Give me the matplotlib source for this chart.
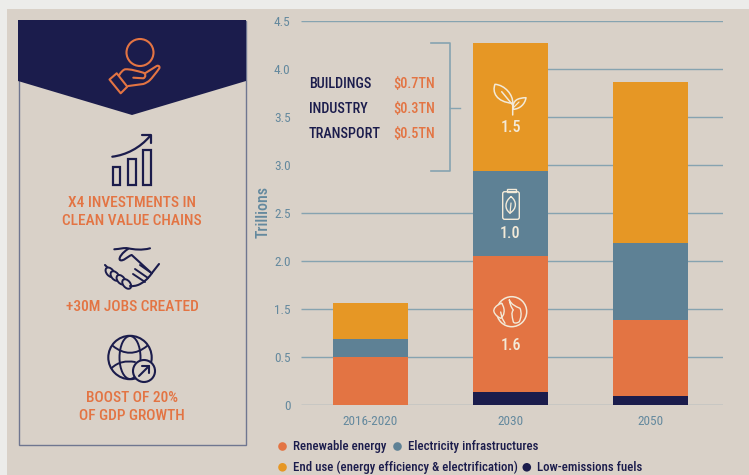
import numpy as np
import matplotlib
matplotlib.use('Agg')
import matplotlib.pyplot as plt
from matplotlib import font_manager
from matplotlib.patches import Circle, Ellipse, Polygon, Rectangle, FancyBboxPatch, PathPatch
from matplotlib.path import Path

W, H = 749, 475

BG = '#ececea'
PANEL = '#d9d1c8'
NAVY = '#1b1c4c'
ORANGE = '#e37443'
BLUE = '#5e8195'
YELLOW = '#e69725'
GRID = '#86a3b0'
TICK = '#64899e'
WH = '#f3ead8'

periods = ['2016-2020', '2030', '2050']
low_emissions = [0, 0.14, 0.09]
renewable = [0.50, 1.915, 1.19]
electricity = [0.375, 0.885, 0.91]
end_use = [0.685, 1.33, 1.675]

tick_values = [0, 0.5, 1.5, 2.0, 2.5, 3.0, 3.5, 4.0, 4.5]
tick_labels = ['0', '0.5', '1.5', '2.0', '2.5', '3.0', '3.5', '4.0', '4.5']

sector_names = ['BUILDINGS', 'INDUSTRY', 'TRANSPORT']
sector_amounts = ['$0.7TN', '$0.3TN', '$0.5TN']
segment_labels = ['1.6', '1.0', '1.5']

# condensed face if the machine has it, otherwise Liberation Sans set smaller so nothing collides
installed = {f.name for f in font_manager.fontManager.ttflist}
if 'Roboto Condensed' in installed:
    plt.rcParams['font.family'] = ['Roboto Condensed', 'Liberation Sans', 'DejaVu Sans']
    SCALE = 1.0
else:
    plt.rcParams['font.family'] = ['Liberation Sans', 'DejaVu Sans']
    SCALE = 0.85


# the source axis skips 1.0: ticks are evenly spaced though their values are not
def forward(v):
    return np.interp(v, [0, 0.5, 1.5, 4.5], [0, 0.5, 1.0, 4.0])


def inverse(v):
    return np.interp(v, [0, 0.5, 1.0, 4.0], [0, 0.5, 1.5, 4.5])


def curve(ax, pts, color, lw=1.4, fill='none'):
    # pts: first is moveto, then lines; ('c', a, b, c) is a bezier
    verts, codes = [pts[0]], [Path.MOVETO]
    for p in pts[1:]:
        if p[0] == 'c':
            verts += [p[1], p[2], p[3]]
            codes += [Path.CURVE4] * 3
        else:
            verts.append(p)
            codes.append(Path.LINETO)
    ax.add_patch(PathPatch(Path(verts, codes), fc=fill, ec=color, lw=lw,
                           capstyle='round', joinstyle='round'))


fig = plt.figure(figsize=(W / 100, H / 100), dpi=100, facecolor=BG)

# overlay in pixel coordinates for the panel and its icons
bg = fig.add_axes([0, 0, 1, 1], zorder=0)
bg.set_xlim(0, W)
bg.set_ylim(H, 0)
bg.axis('off')
bg.add_patch(Rectangle((7, 9), W - 7, H - 9, fc=PANEL, ec='none'))

# left card
bg.add_patch(Rectangle((18.5, 20.5), 227, 424.5, fc='none', ec='#6f7690', lw=1.0))
bg.add_patch(Polygon([(18, 20), (246, 20), (246, 81), (132, 115), (18, 81)], fc=NAVY, ec='none'))

# hand and coin
bg.add_patch(Circle((140, 52.5), 13.5, fc='none', ec=ORANGE, lw=1.5))
bg.add_patch(Polygon([(109.5, 79.5), (116.7, 73.3), (127.3, 86.7), (120.7, 93.3)], fc=NAVY, ec=ORANGE, lw=1.5,
                     joinstyle='round'))
curve(bg, [(119.3, 75), ('c', (121, 72), (123, 70), (125, 69.3)), ('c', (131, 69), (137, 71), (143.3, 72.7)),
           ('c', (146, 73.5), (146, 77.5), (143.3, 78.3)), (133.3, 77.7)], ORANGE, 1.5)
curve(bg, [(145, 73.3), (156.7, 66), ('c', (159, 65), (160, 67), (159.3, 68.3)),
           ('c', (156, 73), (152, 78), (150, 80)), ('c', (148, 82), (146, 83), (143.3, 84)), (128.3, 86)], ORANGE, 1.5)

# growth bars
for bx, btop, bw in zip([112.7, 128.3, 143.3], [166.7, 159, 150.3], [7.6, 7.4, 7.7]):
    bg.add_patch(Rectangle((bx, btop), bw, 185 - btop, fc='none', ec=NAVY, lw=1.6))
curve(bg, [(112.3, 156.7), ('c', (126, 155), (140, 148), (150, 136))], NAVY, 1.6)
curve(bg, [(141.7, 135.3), (151, 135.3), (151, 143.3)], NAVY, 1.6)

# handshake
curve(bg, [(114.3, 249.3), ('c', (120, 249), (124, 247.5), (128, 248.3)),
           ('c', (134, 249.5), (142, 250.5), (150, 248.3))], NAVY, 1.5)
curve(bg, [(128, 249), ('c', (123, 252), (118, 258), (120, 260)), ('c', (123, 262), (128, 256), (131.7, 255)),
           (151.7, 273.3)], NAVY, 1.5)
curve(bg, [(105, 265), (111.7, 271.7)], NAVY, 1.5)
curve(bg, [(159, 264), (151.7, 273.3)], NAVY, 1.5)
for kx, ky in zip([110, 115, 121, 126.7], [272.3, 276, 279.8, 284]):
    bg.add_patch(Ellipse((kx, ky), 11, 7, angle=50, fc=PANEL, ec=NAVY, lw=1.4))
curve(bg, [(151.7, 273.3), ('c', (148, 279), (143, 283), (138, 285)), ('c', (135, 286), (132, 286.5), (130, 286))],
      NAVY, 1.5)
curve(bg, [(133, 274), (145, 282)], NAVY, 1.4)
curve(bg, [(135, 269), (148, 278)], NAVY, 1.4)
curve(bg, [(140, 265), (150, 272)], NAVY, 1.4)

# globe with arrow badge
bg.add_patch(Circle((130, 357.5), 21.7, fc='none', ec=NAVY, lw=1.5))
bg.add_patch(Ellipse((130, 357.5), 21, 43, fc='none', ec=NAVY, lw=1.4))
curve(bg, [(113, 346), ('c', (124, 355), (136, 355), (147, 346))], NAVY, 1.4)
curve(bg, [(111.7, 368), ('c', (118, 362), (126, 360.5), (135, 362))], NAVY, 1.4)
bg.add_patch(Circle((144, 371), 11, fc=PANEL, ec=NAVY, lw=1.5))
curve(bg, [(139, 376), (149, 366)], NAVY, 1.5)
curve(bg, [(142, 366), (149, 366), (149, 373)], NAVY, 1.5)

# card captions
for txt, y in [('X4 INVESTMENTS IN', 203), ('CLEAN VALUE CHAINS', 221), ('+30M JOBS CREATED', 307),
               ('BOOST OF 20%', 398), ('OF GDP GROWTH', 416)]:
    bg.text(132, y, txt, color=ORANGE, fontsize=11.1 * SCALE, ha='center', va='center', fontweight='medium')

# chart
ax = fig.add_axes([301 / W, 1 - 405 / H, (722.7 - 301) / W, 384 / H], zorder=1)
ax.patch.set_alpha(0)
ax.set_yscale('function', functions=(forward, inverse))
ax.set_ylim(0, 4.5)
ax.set_xlim(-0.4975, 2.52)

x = np.arange(len(periods))
bottom = np.zeros(len(periods))
for vals, col in [(low_emissions, NAVY), (renewable, ORANGE), (electricity, BLUE), (end_use, YELLOW)]:
    ax.bar(x, vals, width=0.537, bottom=bottom, color=col, zorder=3)
    bottom = bottom + np.array(vals)

# gridlines stop at the 2030 bar where the sector note sits
ax.hlines([0, 0.5, 1.5, 2.0, 2.5, 4.5], -0.4975, 2.52, color=GRID, lw=1.0, zorder=1)
ax.hlines([3.0, 3.5, 4.0], 1, 2.52, color=GRID, lw=1.0, zorder=1)

ax.set_yticks(tick_values)
ax.set_yticklabels(tick_labels)
ax.set_xticks(x)
ax.set_xticklabels(periods)
ax.minorticks_off()
ax.tick_params(axis='y', length=0, labelcolor=TICK, labelsize=9.5 * SCALE, pad=7.5)
ax.tick_params(axis='x', length=0, labelcolor=TICK, labelsize=9.5 * SCALE, pad=7)
for s in ax.spines.values():
    s.set_visible(False)

# overlay above the chart
top = fig.add_axes([0, 0, 1, 1], zorder=2)
top.set_xlim(0, W)
top.set_ylim(H, 0)
top.axis('off')

top.text(263, 212, 'Trillions', color=TICK, fontsize=11.5 * SCALE, rotation=90, ha='center', va='center',
         fontweight='medium')

# sector note and bracket
top.plot([431, 449.5, 449.5, 431], [43, 43, 171, 171], color=GRID, lw=1.2)
top.plot([449.5, 460], [107.5, 107.5], color=GRID, lw=1.0)
for name, amount, y in zip(sector_names, sector_amounts, [83.5, 109, 134.5]):
    top.text(309, y, name, color=NAVY, fontsize=10.3 * SCALE, va='center', fontweight='medium')
    top.text(435.5, y, amount, color=ORANGE, fontsize=10.3 * SCALE, va='center', ha='right', fontweight='medium')

# segment values and white icons
for txt, y in zip(segment_labels, [345, 234, 128]):
    top.text(510.5, y, txt, color=WH, fontsize=11.5 * SCALE, ha='center', va='center', fontweight='medium')
curve(top, [(512.7, 103.3), ('c', (513.3, 95), (505, 85), (495, 84.3)),
            ('c', (492, 92), (496, 102), (512.7, 103.3))], WH, 1.1)
curve(top, [(513.3, 109.3), ('c', (512, 100), (518, 98), (526, 97.7)),
            ('c', (525, 104), (520, 109), (513.3, 109.3))], WH, 1.1)
curve(top, [(501.7, 91.7), (512.7, 105), (512.7, 115)], WH, 1.1)
curve(top, [(519, 102), (513, 108)], WH, 0.9)

top.add_patch(FancyBboxPatch((502.7, 191.7), 16.6, 27.6, boxstyle='round,pad=0,rounding_size=2', fc='none', ec=WH,
                             lw=1.0))
top.add_patch(Rectangle((506.7, 189.3), 9.3, 2.4, fc='none', ec=WH, lw=1.0))
curve(top, [(511, 196.7), ('c', (505, 201), (504, 209), (510, 213)), ('c', (517, 209), (517, 201), (511, 196.7))],
      WH, 1.0)
curve(top, [(511, 203), (510, 213.5)], WH, 0.9)

top.add_patch(Circle((511.7, 311.7), 15, fc='none', ec=WH, lw=1.1))
curve(top, [(501.7, 303.3), ('c', (496, 305), (493, 309), (494, 311.7)), ('c', (495, 315), (498, 317), (500.7, 318.3)),
            ('c', (504, 316), (506, 310), (501.7, 303.3))], WH, 1.0, fill=ORANGE)
curve(top, [(500.7, 312), (502, 318), (505, 323.3)], WH, 1.0)
curve(top, [(509.3, 300), ('c', (512, 305), (515, 306), (520, 308.3)), ('c', (522, 313), (521, 318), (519.3, 321.7)),
            ('c', (516, 324), (513.5, 323), (513.3, 321.7)), ('c', (512, 316), (511, 313), (513.3, 310)),
            ('c', (511, 307), (510, 304), (509.3, 300))], WH, 1.0)

# legend
legend_rows = [(282.5, 446.5, ORANGE, 'Renewable energy'), (397.5, 446.5, BLUE, 'Electricity infrastructures'),
               (282.5, 467.3, YELLOW, 'End use (energy efficiency & electrification)'),
               (526.8, 467.3, NAVY, 'Low-emissions fuels')]
for lx, ly, col, name in legend_rows:
    top.add_patch(Circle((lx, ly), 4.3, fc=col, ec='none'))
    top.text(lx + 10.5, ly, name, color=NAVY, fontsize=9.3 * SCALE, va='center', fontweight='medium')

fig.savefig('out.png', dpi=100, facecolor=BG)
